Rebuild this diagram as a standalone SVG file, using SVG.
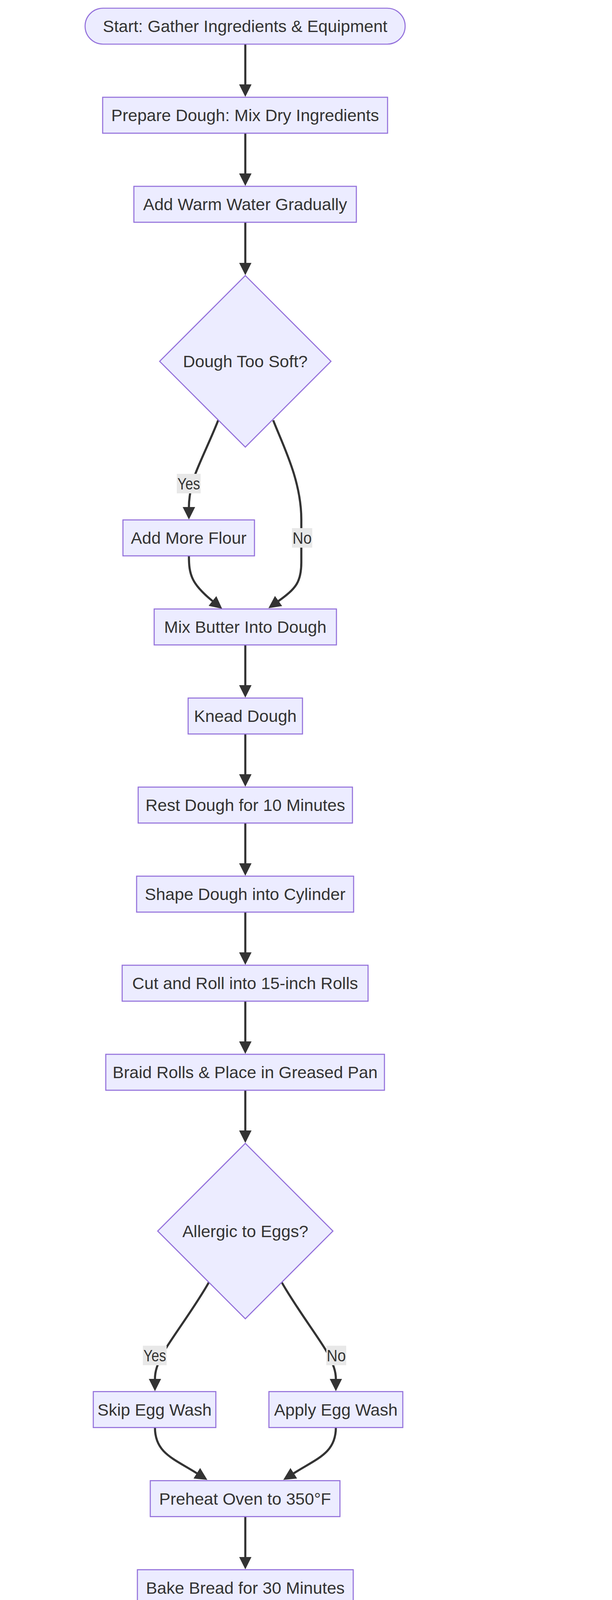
<svg xmlns="http://www.w3.org/2000/svg" width="1568" height="6998" viewBox="0 0 1568 6998">
<style>
.node rect,.node polygon{fill:#ECECFF;stroke:#9370DB;stroke-width:2.7}
text{font-family:"Liberation Sans",Arial,sans-serif;font-size:43px;fill:#333333;text-anchor:middle}
.edge{fill:none;stroke:#333333;stroke-width:5.4}
.lbl rect{fill:#E8E8E8}
</style>
<defs>
<marker id="arr" viewBox="0 0 10 10" refX="0.3" refY="5" markerUnits="userSpaceOnUse" markerWidth="32" markerHeight="32" orient="auto">
<path d="M0,0 L10,5 L0,10 z" fill="#333333"/>
</marker>
</defs>
<rect x="0" y="0" width="1568" height="6998" fill="#ffffff"/>
<g id="connectors">
<path class="edge" marker-end="url(#arr)" d="M628.5,113 V217"/>
<path class="edge" marker-end="url(#arr)" d="M628.5,341 V445"/>
<path class="edge" marker-end="url(#arr)" d="M628.5,569 V673.5"/>
<path class="edge" marker-end="url(#arr)" d="M559,1076 C540,1125 510,1185 498,1220 C488,1250 484,1275 484,1299"/>
<path class="edge" marker-end="url(#arr)" d="M700,1076 C725,1140 772,1230 772,1330 L772,1440 C772,1490 758,1507 713,1539"/>
<path class="edge" marker-end="url(#arr)" d="M484,1423 C484,1470 490,1495 545,1539"/>
<path class="edge" marker-end="url(#arr)" d="M628.5,1651 V1755"/>
<path class="edge" marker-end="url(#arr)" d="M628.5,1879 V1983"/>
<path class="edge" marker-end="url(#arr)" d="M628.5,2107 V2211"/>
<path class="edge" marker-end="url(#arr)" d="M628.5,2335 V2439"/>
<path class="edge" marker-end="url(#arr)" d="M628.5,2563 V2667"/>
<path class="edge" marker-end="url(#arr)" d="M628.5,2791 V2895"/>
<path class="edge" marker-end="url(#arr)" d="M535,3283 C500,3345 440,3425 420,3460 C402,3495 397,3510 397,3530.5"/>
<path class="edge" marker-end="url(#arr)" d="M722,3283 C757,3345 817,3425 837,3460 C855,3495 860.5,3510 860.5,3530.5"/>
<path class="edge" marker-end="url(#arr)" d="M397,3654.5 C397,3720 445,3734 505,3772"/>
<path class="edge" marker-end="url(#arr)" d="M860.5,3654.5 C860.5,3720 812,3734 752,3772"/>
<path class="edge" marker-end="url(#arr)" d="M628.5,3882.5 V3986.5"/>
<path class="edge" marker-end="url(#arr)" d="M628.5,4110.5 V4214.5"/>
<path class="edge" marker-end="url(#arr)" d="M628.5,4338.5 V4442.5"/>
<path class="edge" marker-end="url(#arr)" d="M485,4971 C440,5042 365,5130 335,5170 C305,5210 294,5240 294,5268.5"/>
<path class="edge" marker-end="url(#arr)" d="M772,4971 C817,5042 892,5130 922,5170 C952,5210 963.5,5240 963.5,5268.5"/>
<path class="edge" marker-end="url(#arr)" d="M963.5,5392.5 V5496.5"/>
<path class="edge" marker-end="url(#arr)" d="M855,5831 C800,5878 720,5945 680,5990 C640,6035 624,6065 624,6095.5"/>
<path class="edge" marker-end="url(#arr)" d="M1072,5831 C1127,5878 1207,5945 1247,5990 C1287,6035 1302.5,6065 1302.5,6095.5"/>
<path class="edge" marker-end="url(#arr)" d="M624,6219.5 C624,6285 650,6300 792,6343"/>
<path class="edge" marker-end="url(#arr)" d="M1302.5,6219.5 C1302.5,6285 1277,6300 1135,6343"/>
<path class="edge" marker-end="url(#arr)" d="M963.5,6447.5 V6551.5"/>
<path class="edge" marker-end="url(#arr)" d="M963.5,6675.5 V6779.5"/>
</g>
<g id="edge-labels">
<g class="lbl"><rect x="453" y="1213" width="61" height="50"/><text x="483.5" y="1253" textLength="58" lengthAdjust="spacingAndGlyphs">Yes</text></g>
<g class="lbl"><rect x="748" y="1352" width="52" height="50"/><text x="774" y="1392" textLength="49" lengthAdjust="spacingAndGlyphs">No</text></g>
<g class="lbl"><rect x="366" y="3445" width="61" height="50"/><text x="396.5" y="3485" textLength="58" lengthAdjust="spacingAndGlyphs">Yes</text></g>
<g class="lbl"><rect x="836" y="3445" width="51" height="50"/><text x="861.5" y="3485" textLength="49" lengthAdjust="spacingAndGlyphs">No</text></g>
<g class="lbl"><rect x="263" y="5183" width="61" height="50"/><text x="293.5" y="5223" textLength="58" lengthAdjust="spacingAndGlyphs">Yes</text></g>
<g class="lbl"><rect x="938" y="5183" width="51" height="50"/><text x="963.5" y="5223" textLength="49" lengthAdjust="spacingAndGlyphs">No</text></g>
<g class="lbl"><rect x="594" y="6008" width="61" height="50"/><text x="624.5" y="6048" textLength="58" lengthAdjust="spacingAndGlyphs">Yes</text></g>
<g class="lbl"><rect x="1277" y="6008" width="52" height="50"/><text x="1303" y="6048" textLength="49" lengthAdjust="spacingAndGlyphs">No</text></g>
</g>
<g id="start" class="node"><rect x="218" y="21" width="820" height="92" rx="46" ry="46"/><text x="628" y="82">Start: Gather Ingredients &amp; Equipment</text></g>
<g id="prepare" class="node"><rect x="263" y="249" width="730" height="92"/><text x="628" y="310">Prepare Dough: Mix Dry Ingredients</text></g>
<g id="addwater" class="node"><rect x="343" y="477" width="570" height="92"/><text x="628" y="538">Add Warm Water Gradually</text></g>
<g id="doughsoft" class="node"><polygon points="628.5,705.5 848,925 628.5,1144.5 409,925"/><text x="628.5" y="940">Dough Too Soft?</text></g>
<g id="addflour" class="node"><rect x="315" y="1331" width="337" height="92"/><text x="483.5" y="1392">Add More Flour</text></g>
<g id="mixbutter" class="node"><rect x="395" y="1559" width="467" height="92"/><text x="628.5" y="1620">Mix Butter Into Dough</text></g>
<g id="knead" class="node"><rect x="482" y="1787" width="293" height="92"/><text x="628.5" y="1848">Knead Dough</text></g>
<g id="rest" class="node"><rect x="354" y="2015" width="549" height="92"/><text x="628.5" y="2076">Rest Dough for 10 Minutes</text></g>
<g id="shape" class="node"><rect x="350" y="2243" width="556" height="92"/><text x="628" y="2304">Shape Dough into Cylinder</text></g>
<g id="cutroll" class="node"><rect x="313" y="2471" width="630" height="92"/><text x="628" y="2532">Cut and Roll into 15-inch Rolls</text></g>
<g id="braid" class="node"><rect x="271" y="2699" width="714" height="92"/><text x="628" y="2760">Braid Rolls &amp; Place in Greased Pan</text></g>
<g id="allergic" class="node"><polygon points="628.5,2927 853,3151.5 628.5,3376 404,3151.5"/><text x="628.5" y="3166.5">Allergic to Eggs?</text></g>
<g id="skipegg" class="node"><rect x="239" y="3562.5" width="314" height="92"/><text x="396" y="3623.5">Skip Egg Wash</text></g>
<g id="applyegg" class="node"><rect x="689" y="3562.5" width="343" height="92"/><text x="860.5" y="3623.5">Apply Egg Wash</text></g>
<g id="preheat" class="node"><rect x="385" y="3790.5" width="486" height="92"/><text x="628" y="3851.5">Preheat Oven to 350°F</text></g>
<g id="bake" class="node"><rect x="352" y="4018.5" width="553" height="92"/><text x="628.5" y="4079.5">Bake Bread for 30 Minutes</text></g>
<g id="cool" class="node"><rect x="356" y="4246.5" width="545" height="92"/><text x="628.5" y="4307.5">Cool Bread for 15 Minutes</text></g>
<g id="serveimm" class="node"><polygon points="628.5,4474.5 948,4794 628.5,5113.5 309,4794"/><text x="628.5" y="4809">Serve Bread Immediately?</text></g>
<g id="servebutter" class="node"><rect x="22" y="5300.5" width="544" height="92"/><text x="294" y="5361.5">Serve with Butter or Soup</text></g>
<g id="coolhour" class="node"><rect x="702" y="5300.5" width="523" height="92"/><text x="963.5" y="5361.5">Cool for an Hour &amp; Store</text></g>
<g id="storing" class="node"><polygon points="963.5,5528.5 1169,5734 963.5,5939.5 758,5734"/><text x="963.5" y="5749">Storing Bread?</text></g>
<g id="freeze" class="node"><rect x="310" y="6127.5" width="628" height="92"/><text x="624" y="6188.5">Place in Plastic Bags &amp; Freeze</text></g>
<g id="proceed" class="node"><rect x="1075" y="6127.5" width="455" height="92"/><text x="1302.5" y="6188.5">Proceed to Next Step</text></g>
<g id="reheat" class="node"><rect x="670" y="6355.5" width="586" height="92"/><text x="963" y="6416.5">Reheat Bread When Needed</text></g>
<g id="microwave" class="node"><rect x="679" y="6583.5" width="568" height="92"/><text x="963" y="6644.5">Microwave for Two Minutes</text></g>
<g id="end" class="node"><rect x="716" y="6811.5" width="494" height="92" rx="46" ry="46"/><text x="963" y="6872.5">End: Enjoy the Bread!</text></g>
</svg>
